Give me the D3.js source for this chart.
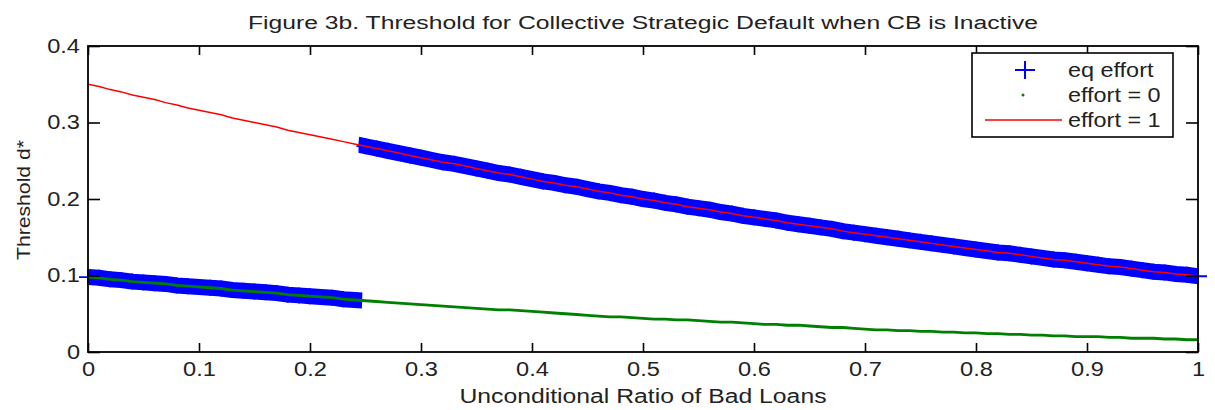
<!DOCTYPE html>
<html>
<head>
<meta charset="utf-8">
<script src="https://cdn.jsdelivr.net/npm/d3@7"></script>
<style>
  body { margin: 0; background: #fff; }
  svg { display: block; font-family: "Liberation Sans", Arial, sans-serif; }
</style>
</head>
<body>
<svg id="chart"></svg>
<script>
// x grid: unconditional ratio of bad loans, 0 .. 1 in steps of 0.01
let ratio = d3.range(0, 101).map(i => i / 100)

// threshold d* with effort = 1 (red line)
let effort1 = [
  0.350, 0.347, 0.343, 0.340, 0.336, 0.333, 0.330, 0.326, 0.323, 0.319,
  0.316, 0.313, 0.310, 0.306, 0.303, 0.300, 0.297, 0.294, 0.290, 0.287,
  0.284, 0.281, 0.278, 0.275, 0.272, 0.269, 0.266, 0.263, 0.260, 0.257,
  0.254, 0.251, 0.248, 0.246, 0.243, 0.240, 0.237, 0.234, 0.232, 0.229,
  0.226, 0.223, 0.221, 0.218, 0.216, 0.213, 0.210, 0.208, 0.205, 0.203,
  0.200, 0.198, 0.195, 0.193, 0.190, 0.188, 0.186, 0.183, 0.181, 0.178,
  0.176, 0.174, 0.172, 0.169, 0.167, 0.165, 0.163, 0.161, 0.158, 0.156,
  0.154, 0.152, 0.150, 0.148, 0.146, 0.144, 0.142, 0.140, 0.138, 0.136,
  0.134, 0.132, 0.130, 0.129, 0.127, 0.125, 0.123, 0.121, 0.120, 0.118,
  0.116, 0.114, 0.112, 0.111, 0.109, 0.107, 0.105, 0.104, 0.102, 0.101,
  0.099
]

// threshold d* with effort = 0 (green dots)
let effort0 = [
  0.098, 0.097, 0.095, 0.094, 0.092, 0.091, 0.090, 0.089, 0.087, 0.086,
  0.085, 0.084, 0.083, 0.081, 0.080, 0.079, 0.078, 0.077, 0.075, 0.074,
  0.073, 0.072, 0.071, 0.069, 0.068, 0.067, 0.066, 0.065, 0.064, 0.063,
  0.062, 0.061, 0.060, 0.059, 0.058, 0.057, 0.056, 0.055, 0.055, 0.054,
  0.053, 0.052, 0.051, 0.050, 0.049, 0.048, 0.047, 0.046, 0.046, 0.045,
  0.044, 0.043, 0.043, 0.042, 0.042, 0.041, 0.040, 0.039, 0.039, 0.038,
  0.037, 0.036, 0.036, 0.035, 0.035, 0.034, 0.033, 0.032, 0.032, 0.031,
  0.030, 0.029, 0.029, 0.028, 0.028, 0.027, 0.027, 0.026, 0.026, 0.025,
  0.025, 0.024, 0.024, 0.023, 0.023, 0.022, 0.022, 0.021, 0.021, 0.020,
  0.020, 0.020, 0.019, 0.019, 0.018, 0.018, 0.018, 0.017, 0.017, 0.016,
  0.016
]

// equilibrium effort jumps from 0 to 1 at this ratio
let switchAt = 0.25

let xTicks = [0, 0.1, 0.2, 0.3, 0.4, 0.5, 0.6, 0.7, 0.8, 0.9, 1]
let yTicks = [0, 0.1, 0.2, 0.3, 0.4]
let legendLabels = ['eq effort', 'effort = 0', 'effort = 1']

let title = 'Figure 3b. Threshold for Collective Strategic Default when CB is Inactive'
let xLabel = 'Unconditional Ratio of Bad Loans'
let yLabel = 'Threshold d*'

let width = 1215
let height = 410
let plotLeft = 88, plotRight = 1198, plotTop = 46, plotBottom = 352
let textColor = '#222'

let svg = d3.select('#chart')
  .attr('width', width)
  .attr('height', height)

let xScale = d3.scaleLinear().domain([0, 1]).range([plotLeft, plotRight])
let yScale = d3.scaleLinear().domain([0, 0.4]).range([plotBottom, plotTop])

let fmt = d => String(+d.toFixed(1))

// glyphs in the figure are wider than the font, stretch them a bit
let stretch = (sel, k) => {
  sel.each(function () {
    let w = this.getComputedTextLength()
    d3.select(this).attr('textLength', w * k).attr('lengthAdjust', 'spacingAndGlyphs')
  })
}

// eq effort points: effort = 0 curve below the switch, effort = 1 above
let eq = ratio.map((r, i) => ({ x: r, y: r < switchAt ? effort0[i] : effort1[i] }))
let eqLow = eq.filter(d => d.x < switchAt)
let eqHigh = eq.filter(d => d.x >= switchAt)

let line = d3.line().x(d => xScale(d.x)).y(d => yScale(d.y))

// dense + markers merge into a solid band, cut square at its ends
let defs = svg.append('defs')
let plot = svg.append('g')
;[eqLow, eqHigh].forEach((seg, k) => {
  let x0 = Math.max(plotLeft, xScale(seg[0].x) - 7)
  let x1 = Math.min(plotRight, xScale(seg[seg.length - 1].x) + 8)
  defs.append('clipPath')
    .attr('id', 'band-clip-' + k)
    .append('rect')
    .attr('x', x0)
    .attr('y', plotTop)
    .attr('width', x1 - x0)
    .attr('height', plotBottom - plotTop)
  plot.append('path')
    .datum(seg)
    .attr('d', line)
    .attr('clip-path', 'url(#band-clip-' + k + ')')
    .attr('fill', 'none')
    .attr('stroke', '#0000ff')
    .attr('stroke-width', 16)
    .attr('stroke-linecap', 'square')
})
plot.selectAll('.plus')
  .data(eq)
  .enter()
  .append('path')
  .attr('class', 'plus')
  .attr('transform', d => 'translate(' + xScale(d.x) + ',' + yScale(d.y) + ')')
  .attr('d', 'M-9,0H9M0,-8V8')
  .attr('stroke', '#0000ff')
  .attr('stroke-width', 1.8)

plot.append('path')
  .datum(ratio.map((r, i) => ({ x: r, y: effort0[i] })))
  .attr('d', line)
  .attr('fill', 'none')
  .attr('stroke', '#008000')
  .attr('stroke-width', 2.8)

plot.append('path')
  .datum(ratio.map((r, i) => ({ x: r, y: effort1[i] })))
  .attr('d', line)
  .attr('fill', 'none')
  .attr('stroke', '#ff0000')
  .attr('stroke-width', 1.5)

// axes with inward ticks on all four sides
let xAxis = svg.append('g')
  .attr('transform', 'translate(0,' + plotBottom + ')')
  .call(d3.axisBottom(xScale).tickValues(xTicks).tickFormat(fmt).tickSizeInner(-9).tickSizeOuter(0).tickPadding(10))
let yAxis = svg.append('g')
  .attr('transform', 'translate(' + plotLeft + ',0)')
  .call(d3.axisLeft(yScale).tickValues(yTicks).tickFormat(fmt).tickSizeInner(-12).tickSizeOuter(0).tickPadding(8))
let xTop = svg.append('g')
  .attr('transform', 'translate(0,' + plotTop + ')')
  .call(d3.axisTop(xScale).tickValues(xTicks).tickFormat('').tickSizeInner(-9).tickSizeOuter(0))
let yRight = svg.append('g')
  .attr('transform', 'translate(' + plotRight + ',0)')
  .call(d3.axisRight(yScale).tickValues(yTicks).tickFormat('').tickSizeInner(-12).tickSizeOuter(0))

;[xAxis, yAxis, xTop, yRight].forEach(g => {
  g.select('.domain').remove()
  g.selectAll('line').attr('stroke', '#000').attr('stroke-width', 1.6)
  g.selectAll('text')
    .attr('fill', textColor)
    .style('font-size', '20px')
    .style('font-family', '"Liberation Sans", Arial, sans-serif')
})
stretch(xAxis.selectAll('text'), 1.18)
stretch(yAxis.selectAll('text'), 1.18)

svg.append('rect')
  .attr('x', plotLeft)
  .attr('y', plotTop)
  .attr('width', plotRight - plotLeft)
  .attr('height', plotBottom - plotTop)
  .attr('fill', 'none')
  .attr('stroke', '#000')
  .attr('stroke-width', 1.8)

// titles
svg.append('text')
  .attr('x', (plotLeft + plotRight) / 2)
  .attr('y', 29)
  .attr('text-anchor', 'middle')
  .attr('fill', textColor)
  .style('font-size', '18px')
  .attr('textLength', 790)
  .attr('lengthAdjust', 'spacingAndGlyphs')
  .text(title)

svg.append('text')
  .attr('x', 643)
  .attr('y', 403)
  .attr('text-anchor', 'middle')
  .attr('fill', textColor)
  .style('font-size', '20px')
  .attr('textLength', 367)
  .attr('lengthAdjust', 'spacingAndGlyphs')
  .text(xLabel)

svg.append('text')
  .attr('transform', 'translate(30,200) rotate(-90)')
  .attr('text-anchor', 'middle')
  .attr('fill', textColor)
  .style('font-size', '19px')
  .attr('textLength', 120)
  .attr('lengthAdjust', 'spacingAndGlyphs')
  .text(yLabel)

// legend
let legend = svg.append('g')
legend.append('rect')
  .attr('x', 972)
  .attr('y', 53)
  .attr('width', 201)
  .attr('height', 84)
  .attr('fill', '#fff')
  .attr('stroke', '#000')
  .attr('stroke-width', 1.6)

let rows = legend.selectAll('.row')
  .data(legendLabels)
  .enter()
  .append('g')
  .attr('class', 'row')
  .attr('transform', (d, i) => 'translate(0,' + (70 + i * 25) + ')')

rows.append('text')
  .attr('x', 1068)
  .attr('y', 7)
  .attr('fill', textColor)
  .style('font-size', '20px')
  .text(d => d)
stretch(rows.selectAll('text'), 1.17)

rows.filter((d, i) => i === 0).append('path')
  .attr('d', 'M1015,0H1035M1025,-9V9')
  .attr('stroke', '#0000ff')
  .attr('stroke-width', 2)
rows.filter((d, i) => i === 1).append('circle')
  .attr('cx', 1023)
  .attr('cy', 0)
  .attr('r', 1.5)
  .attr('fill', '#008000')
rows.filter((d, i) => i === 2).append('line')
  .attr('x1', 985)
  .attr('x2', 1062)
  .attr('stroke', '#ff0000')
  .attr('stroke-width', 1.5)
</script>
</body>
</html>
